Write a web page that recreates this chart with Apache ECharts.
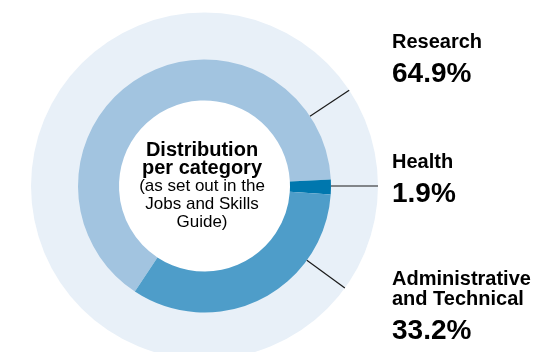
<!DOCTYPE html>
<html>
<head>
<meta charset="utf-8">
<script src="https://cdn.jsdelivr.net/npm/echarts@6/dist/echarts.min.js"></script>
<style>
  html, body { margin: 0; padding: 0; background: #ffffff; }
  #chart { width: 540px; height: 352px; }
</style>
</head>
<body>
<div id="chart"></div>
<script>
// Staff distribution by job category
const categories = ['Research', 'Health', 'Administrative\nand Technical'];
const shares = [64.9, 1.9, 33.2];
const sliceColors = ['#a2c4e0', '#0077ae', '#4e9dc9'];
const centerTitle = ['Distribution', 'per category'];
const centerNote = ['(as set out in the', 'Jobs and Skills', 'Guide)'];

// Layout
const CX = 204.5, CY = 186;
const R_IN = 85.5, R_OUT = 126.5, R_HALO = 173.5;
const START = 236.6;
const leaderAngles = [33.5, 0, -36];       // degrees, counter-clockwise from 3 o'clock
const LABEL_X = 392;
const labelNameY = [[42], [162.5], [279, 299]];
const labelValueY = [74, 194, 331];
const FONT = '"Liberation Sans", Arial, Helvetica, sans-serif';
const INK = '#000000';

const chart = echarts.init(document.getElementById('chart'), null, { renderer: 'canvas' });

const graphics = [];

// leader lines across the pale halo
leaderAngles.forEach(function (a) {
  const t = a * Math.PI / 180;
  graphics.push({
    type: 'line',
    silent: true,
    z: 10,
    shape: {
      x1: CX + R_OUT * Math.cos(t), y1: CY - R_OUT * Math.sin(t),
      x2: CX + R_HALO * Math.cos(t), y2: CY - R_HALO * Math.sin(t)
    },
    style: { stroke: '#1a1a1a', lineWidth: 1.2 }
  });
});

// category names and shares on the right
categories.forEach(function (name, i) {
  name.split('\n').forEach(function (line, j) {
    graphics.push({
      type: 'text', silent: true, z: 10,
      x: LABEL_X, y: labelNameY[i][j],
      style: {
        text: line, fill: INK,
        font: 'bold 20px ' + FONT,
        align: 'left', verticalAlign: 'middle',
        textAlign: 'left', textVerticalAlign: 'middle'
      }
    });
  });
  graphics.push({
    type: 'text', silent: true, z: 10,
    x: LABEL_X, y: labelValueY[i],
    style: {
      text: shares[i].toFixed(1) + '%', fill: INK,
      font: 'bold 28px ' + FONT,
      align: 'left', verticalAlign: 'middle',
      textAlign: 'left', textVerticalAlign: 'middle'
    }
  });
});

// text in the hole of the donut
const holeLines = centerTitle.map(function (t) { return { t: t, bold: true }; })
  .concat(centerNote.map(function (t) { return { t: t, bold: false }; }));
const holeY0 = 150, holeStep = 18.2;
holeLines.forEach(function (l, k) {
  graphics.push({
    type: 'text', silent: true, z: 10,
    x: 202, y: holeY0 + k * holeStep,
    style: {
      text: l.t, fill: INK,
      font: (l.bold ? 'bold 20px ' : '17px ') + FONT,
      align: 'center', verticalAlign: 'middle',
      textAlign: 'center', textVerticalAlign: 'middle'
    }
  });
});

chart.setOption({
  animation: false,
  backgroundColor: '#ffffff',
  graphic: { elements: graphics },
  series: [
    {
      // pale halo behind the ring
      type: 'pie',
      silent: true,
      center: [CX, CY],
      radius: [R_OUT - 2, R_HALO],
      label: { show: false },
      labelLine: { show: false },
      itemStyle: { color: '#e8f0f8', borderWidth: 0 },
      emphasis: { disabled: true },
      data: [{ value: 1, name: 'halo' }],
      z: 1
    },
    {
      type: 'pie',
      silent: true,
      center: [CX, CY],
      radius: [R_IN, R_OUT],
      startAngle: START,
      clockwise: true,
      avoidLabelOverlap: false,
      label: { show: false },
      labelLine: { show: false },
      emphasis: { disabled: true },
      itemStyle: { borderWidth: 0 },
      data: categories.map(function (c, i) {
        return { name: c, value: shares[i], itemStyle: { color: sliceColors[i] } };
      }),
      z: 2
    }
  ]
});
</script>
</body>
</html>
